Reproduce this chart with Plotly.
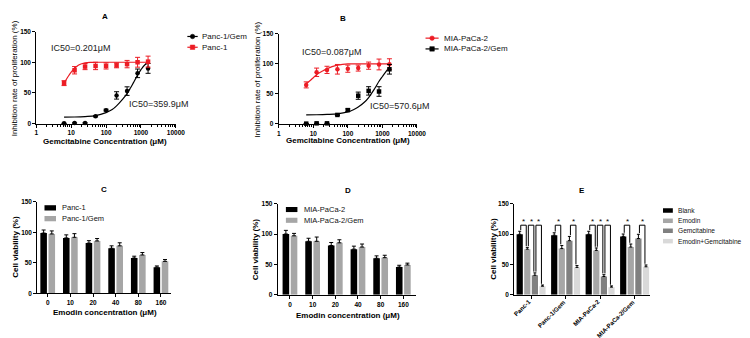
import plotly.graph_objects as go

W, H = 750, 338
FONT = "Liberation Sans, Arial, sans-serif"
RED = "#ec1c24"

# ---------------- Data: panels A & B ----------------
gem_conc = [6.25, 12.5, 25, 50, 100, 200, 400, 800, 1600]

panc1 = [66, 87, 93, 94, 94, 95, 97, 100, 101]
panc1_err = [4, 6, 5, 6, 5, 4, 6, 8, 9]
panc1gem = [0.5, 1, 1, 12, 22, 46, 53, 82, 90]
panc1gem_err = [0, 0, 0, 1, 1.5, 6, 7, 7, 8]

mia = [65, 86, 90, 91, 92, 93, 97, 99, 99.5]
mia_err = [5, 7, 6, 8, 6, 5, 6, 9, 9]
miagem = [0.5, 1, 1, 15, 23, 47, 55, 54, 91]
miagem_err = [0, 0, 0, 1, 2, 6, 7, 8, 8]

# fitted curves
fitA_red_x = [6.25, 8, 10, 12.5, 16, 20, 25, 35, 50, 100, 200, 400, 800, 1600]
fitA_red_y = [66, 76, 84, 90, 95, 97.5, 99, 99.8, 100, 100, 100, 100, 100, 100]
fitA_blk_x = [6.25, 12.5, 25, 50, 100, 150, 200, 300, 400, 500, 600, 800, 1000, 1300, 1600]
fitA_blk_y = [10.5, 10.8, 11.5, 13, 18, 23, 29, 40, 49, 58, 66, 79, 88, 96, 99]

fitB_red_x = [6.25, 8, 10, 12.5, 16, 20, 25, 35, 50, 70, 100, 200, 400, 800, 1600]
fitB_red_y = [67, 72, 77, 82, 86, 89, 92, 95.5, 98, 99.3, 100, 100, 100, 100, 100]
fitB_blk_x = [6.25, 12.5, 25, 50, 100, 150, 200, 300, 400, 600, 800, 1000, 1300, 1600]
fitB_blk_y = [15, 15.3, 15.8, 16.8, 20, 24, 28, 36, 44, 59, 71, 79, 88, 94]

log_ticks = [1, 10, 100, 1000, 10000]
log_ticktext = ["1", "10", "100", "1000", "10000"]

# ---------------- Data: panels C & D ----------------
emodin_conc = ["0", "10", "20", "40", "80", "160"]
c_panc1 = [99, 91, 82.5, 74, 58, 43]
c_panc1_err = [5, 5, 4, 4, 3, 2]
c_panc1gem = [97.5, 92, 86, 78, 63, 52.5]
c_panc1gem_err = [5, 6, 4, 5, 4, 3]

d_mia = [100, 88, 81, 75, 60, 45.5]
d_mia_err = [6, 5, 5, 5, 4, 3]
d_miagem = [97, 88, 85.5, 78.5, 61, 49]
d_miagem_err = [4, 7, 5, 5, 4, 3]

# ---------------- Data: panel E ----------------
e_cells = ["Panc-1", "Panc-1/Gem", "MIA-PaCa-2", "MIA-PaCa-2/Gem"]
e_treat = ["Blank", "Emodin", "Gemcitabine", "Emodin+Gemcitabine"]
e_vals = [
    [99.5, 98, 99.5, 96],    # Blank
    [75, 76, 73, 78.5],      # Emodin
    [32, 89, 30, 92.5],      # Gemcitabine
    [14, 45, 12.5, 46],      # Emodin+Gemcitabine
]
e_errs = [
    [5, 4, 5, 4],
    [3, 5, 4, 5],
    [4, 7, 3, 7],
    [2, 3, 2, 3],
]
e_sig_pairs = [
    [(0, 1), (1, 2), (2, 3)],
    [(0, 1), (2, 3)],
    [(0, 1), (1, 2), (2, 3)],
    [(0, 1), (2, 3)],
]

# ---------------- helpers ----------------
def xd(l, r):
    return [l / W, r / W]

def yd(top, bottom):
    return [1 - bottom / H, 1 - top / H]

def px(x):
    return x / W

def py(y):
    return 1 - y / H

tickfont = dict(family=FONT, size=6.5, color="black", weight="bold")
axis_common = dict(showline=True, linecolor="black", linewidth=1, ticks="outside",
                   ticklen=3, tickwidth=1, tickcolor="black", showgrid=False,
                   zeroline=False, tickfont=tickfont, fixedrange=True)

fig = go.Figure()

# ---------------- Panel A ----------------
fig.add_trace(go.Scatter(x=fitA_red_x, y=fitA_red_y, mode="lines", line=dict(color=RED, width=1.2, shape="spline"),
                         xaxis="x", yaxis="y", showlegend=False, hoverinfo="skip"))
fig.add_trace(go.Scatter(x=fitA_blk_x, y=fitA_blk_y, mode="lines", line=dict(color="black", width=1.2, shape="spline"),
                         xaxis="x", yaxis="y", showlegend=False, hoverinfo="skip"))
fig.add_trace(go.Scatter(x=gem_conc, y=panc1gem, mode="markers", name="Panc-1/Gem",
                         marker=dict(color="black", size=4.5, symbol="circle"),
                         error_y=dict(type="data", array=panc1gem_err, color="black", thickness=1, width=2.5),
                         xaxis="x", yaxis="y", showlegend=False, cliponaxis=False))
fig.add_trace(go.Scatter(x=gem_conc, y=panc1, mode="markers", name="Panc-1",
                         marker=dict(color=RED, size=4.5, symbol="square"),
                         error_y=dict(type="data", array=panc1_err, color=RED, thickness=1, width=2.5),
                         xaxis="x", yaxis="y", showlegend=False, cliponaxis=False))

# ---------------- Panel B ----------------
fig.add_trace(go.Scatter(x=fitB_red_x, y=fitB_red_y, mode="lines", line=dict(color=RED, width=1.2, shape="spline"),
                         xaxis="x2", yaxis="y2", showlegend=False, hoverinfo="skip"))
fig.add_trace(go.Scatter(x=fitB_blk_x, y=fitB_blk_y, mode="lines", line=dict(color="black", width=1.2, shape="spline"),
                         xaxis="x2", yaxis="y2", showlegend=False, hoverinfo="skip"))
fig.add_trace(go.Scatter(x=gem_conc, y=mia, mode="markers", name="MIA-PaCa-2",
                         marker=dict(color=RED, size=4.5, symbol="circle"),
                         error_y=dict(type="data", array=mia_err, color=RED, thickness=1, width=2.5),
                         xaxis="x2", yaxis="y2", showlegend=False, cliponaxis=False))
fig.add_trace(go.Scatter(x=gem_conc, y=miagem, mode="markers", name="MIA-PaCa-2/Gem",
                         marker=dict(color="black", size=4.5, symbol="square"),
                         error_y=dict(type="data", array=miagem_err, color="black", thickness=1, width=2.5),
                         xaxis="x2", yaxis="y2", showlegend=False, cliponaxis=False))

# ---------------- Panels C & D ----------------
cd_idx = list(range(len(emodin_conc)))
cd_width = 0.29
for xa, ya, s1, e1, s2, e2, n1, n2 in [
    ("x3", "y3", c_panc1, c_panc1_err, c_panc1gem, c_panc1gem_err, "Panc-1", "Panc-1/Gem"),
    ("x4", "y4", d_mia, d_mia_err, d_miagem, d_miagem_err, "MIA-PaCa-2", "MIA-PaCa-2/Gem"),
]:
    fig.add_trace(go.Bar(x=cd_idx, y=s1, name=n1, width=cd_width, offset=-0.18 - cd_width / 2,
                         marker=dict(color="black", line=dict(width=0)),
                         error_y=dict(type="data", array=e1, arrayminus=[0] * len(e1), symmetric=False,
                                      color="black", thickness=1, width=2),
                         xaxis=xa, yaxis=ya, showlegend=False))
    fig.add_trace(go.Bar(x=cd_idx, y=s2, name=n2, width=cd_width, offset=0.18 - cd_width / 2,
                         marker=dict(color="#a6a6a6", line=dict(width=0)),
                         error_y=dict(type="data", array=e2, arrayminus=[0] * len(e2), symmetric=False,
                                      color="black", thickness=1, width=2),
                         xaxis=xa, yaxis=ya, showlegend=False))

# ---------------- Panel E ----------------
e_idx = list(range(len(e_cells)))
e_colors = ["#000000", "#a6a6a6", "#808080", "#d9d9d9"]
e_offsets = [-0.33, -0.11, 0.11, 0.33]
e_width = 0.18
for k in range(len(e_treat)):
    fig.add_trace(go.Bar(x=e_idx, y=e_vals[k], name=e_treat[k], width=e_width,
                         offset=e_offsets[k] - e_width / 2,
                         marker=dict(color=e_colors[k], line=dict(width=0)),
                         error_y=dict(type="data", array=e_errs[k], arrayminus=[0] * len(e_idx),
                                      symmetric=False, color="black", thickness=1, width=1.5),
                         xaxis="x5", yaxis="y5", showlegend=False))

shapes = []
annotations = []

BR_TOP = 114.5
for g, pairs in enumerate(e_sig_pairs):
    for (a, b) in pairs:
        xa_ = g + e_offsets[a] + 0.03
        xb_ = g + e_offsets[b] - 0.03
        ya_ = e_vals[a][g] + e_errs[a][g] + 2
        yb_ = e_vals[b][g] + e_errs[b][g] + 2
        path = f"M {xa_},{ya_} L {xa_},{BR_TOP} L {xb_},{BR_TOP} L {xb_},{yb_}"
        shapes.append(dict(type="path", path=path, xref="x5", yref="y5",
                           line=dict(color="black", width=1)))
        annotations.append(dict(x=(xa_ + xb_) / 2, y=121, xref="x5", yref="y5", text="*",
                                showarrow=False, font=dict(family=FONT, size=8, color="black"),
                                xanchor="center", yanchor="middle"))

# rotated category labels of panel E (placed as text at each tick)
E_X0, E_X1, E_R0, E_R1 = 511.7, 650, -0.49, 3.46
for i, lab in enumerate(e_cells):
    tick_px = E_X0 + (i - E_R0) / (E_R1 - E_R0) * (E_X1 - E_X0)
    annotations.append(dict(x=px(tick_px + 2.5), y=py(290.5), xref="paper", yref="paper",
                            text=f"<b>{lab}</b>", showarrow=False, textangle=-45,
                            xanchor="right", yanchor="top", borderpad=0,
                            font=dict(family=FONT, size=6.2, color="black")))

# ---------------- Layout axes ----------------
layout_axes = dict(
    xaxis=dict(axis_common, type="log", domain=xd(26.7, 168.3), range=[0, 4], anchor="y",
               tickmode="array", tickvals=log_ticks, ticktext=log_ticktext,
               minor=dict(ticks="outside", ticklen=2, tickcolor="black", dtick="D1", showgrid=False)),
    yaxis=dict(axis_common, domain=yd(20, 114), range=[0, 150], anchor="x",
               tickmode="array", tickvals=[0, 50, 100, 150]),
    xaxis2=dict(axis_common, type="log", domain=xd(272.7, 413), range=[0, 4], anchor="y2",
                tickmode="array", tickvals=log_ticks, ticktext=log_ticktext,
                minor=dict(ticks="outside", ticklen=2, tickcolor="black", dtick="D1", showgrid=False)),
    yaxis2=dict(axis_common, domain=yd(22.3, 114.3), range=[0, 150], anchor="x2",
                tickmode="array", tickvals=[0, 50, 100, 150]),
    xaxis3=dict(axis_common, domain=xd(27.7, 163.3), range=[-0.46, 5.44], anchor="y3",
                tickmode="array", tickvals=cd_idx, ticktext=emodin_conc),
    yaxis3=dict(axis_common, domain=yd(194, 287.3), range=[0, 150], anchor="x3",
                tickmode="array", tickvals=[0, 50, 100, 150]),
    xaxis4=dict(axis_common, domain=xd(271.7, 412.3), range=[-0.54, 5.57], anchor="y4",
                tickmode="array", tickvals=cd_idx, ticktext=emodin_conc),
    yaxis4=dict(axis_common, domain=yd(195.7, 288.7), range=[0, 150], anchor="x4",
                tickmode="array", tickvals=[0, 50, 100, 150]),
    xaxis5=dict(axis_common, domain=xd(E_X0, E_X1), range=[E_R0, E_R1], anchor="y5",
                tickmode="array", tickvals=e_idx, ticktext=e_cells, showticklabels=False),
    yaxis5=dict(axis_common, domain=yd(195.7, 288.7), range=[0, 150], anchor="x5",
                tickmode="array", tickvals=[0, 50, 100, 150]),
)

# ---------------- Text annotations ----------------
def ann(text, x, y, size=8, bold=False, angle=0, xanchor="center", color="black"):
    t = f"<b>{text}</b>" if bold else text
    annotations.append(dict(x=px(x), y=py(y), xref="paper", yref="paper", text=t, showarrow=False,
                            textangle=angle, xanchor=xanchor, yanchor="middle",
                            font=dict(family=FONT, size=size, color=color)))

# panel letters
ann("A", 96.7, 5, 8, True)
ann("B", 337.7, 6.5, 8, True)
ann("C", 95, 181, 8, True)
ann("D", 342.7, 182, 8, True)
ann("E", 580.7, 182, 8, True)

# axis titles
ann("Gemcitabine Concentration (μM)", 96.7, 132.3, 8, True)
ann("Gemcitabine Concentration (μM)", 343, 131.7, 8, True)
ann("Inhibition rate of proliferation (%)", 4.8, 68, 8, False, -90)
ann("Inhibition rate of proliferation (%)", 251.5, 69, 8, False, -90)
ann("Emodin concentration (μM)", 96, 306.7, 8, True)
ann("Emodin concentration (μM)", 342.7, 310, 8, True)
ann("Cell viability (%)", 4.8, 240, 8, True, -90)
ann("Cell viability (%)", 250, 242, 8, True, -90)
ann("Cell viability (%)", 491, 242, 8, True, -90)

# IC50 labels
ann("IC50=0.201μM", 72, 37, 9, False, color="#222222")
ann("IC50=359.9μM", 151, 94, 9, False, color="#222222")
ann("IC50=0.087μM", 326, 40.7, 9, False, color="#222222")
ann("IC50=570.6μM", 395.5, 95.7, 9, False, color="#222222")

# ---------------- Manual legends ----------------
def leg_line(x0, x1, y, color, symbol, label, tx):
    shapes.append(dict(type="line", xref="paper", yref="paper", x0=px(x0), x1=px(x1), y0=py(y), y1=py(y),
                       line=dict(color=color, width=1.2)))
    cx = (x0 + x1) / 2
    r = 2.3
    shapes.append(dict(type=symbol, xref="paper", yref="paper", x0=px(cx - r), x1=px(cx + r),
                       y0=py(y + r), y1=py(y - r), fillcolor=color, line=dict(color=color, width=0.5)))
    ann(label, tx, y, 8, False, xanchor="left", color="#111111")

def leg_box(x0, x1, y, h, color, label, tx, size):
    shapes.append(dict(type="rect", xref="paper", yref="paper", x0=px(x0), x1=px(x1),
                       y0=py(y + h / 2), y1=py(y - h / 2), fillcolor=color, line=dict(width=0)))
    ann(label, tx, y, size, False, xanchor="left", color="#111111")

leg_line(180, 190.5, 25, "black", "circle", "Panc-1/Gem", 192.7)
leg_line(180, 190.5, 36, RED, "rect", "Panc-1", 192.7)
leg_line(421.7, 435, 26.7, RED, "circle", "MIA-PaCa-2", 438.3)
leg_line(421.7, 435, 37.7, "black", "rect", "MIA-PaCa-2/Gem", 438.3)

leg_box(35, 46.7, 200, 5.4, "black", "Panc-1", 50.7, 7.5)
leg_box(35, 46.7, 211, 5.4, "#a6a6a6", "Panc-1/Gem", 50.7, 7.5)
leg_box(280, 291.7, 201.7, 5.2, "black", "MIA-PaCa-2", 296, 7.5)
leg_box(280, 291.7, 212.7, 5.2, "#a6a6a6", "MIA-PaCa-2/Gem", 296, 7.5)

e_leg_y = [202.7, 213.2, 223.4, 234]
for k in range(len(e_treat)):
    leg_box(662.7, 672.7, e_leg_y[k], 4.6, e_colors[k], e_treat[k], 675.5, 6.6)

fig.update_layout(
    width=W, height=H, margin=dict(l=0, r=0, t=0, b=0),
    paper_bgcolor="white", plot_bgcolor="white",
    font=dict(family=FONT, size=8, color="black"),
    barmode="overlay", showlegend=False,
    shapes=shapes, annotations=annotations,
    **layout_axes,
)

fig.write_html("out.html")
